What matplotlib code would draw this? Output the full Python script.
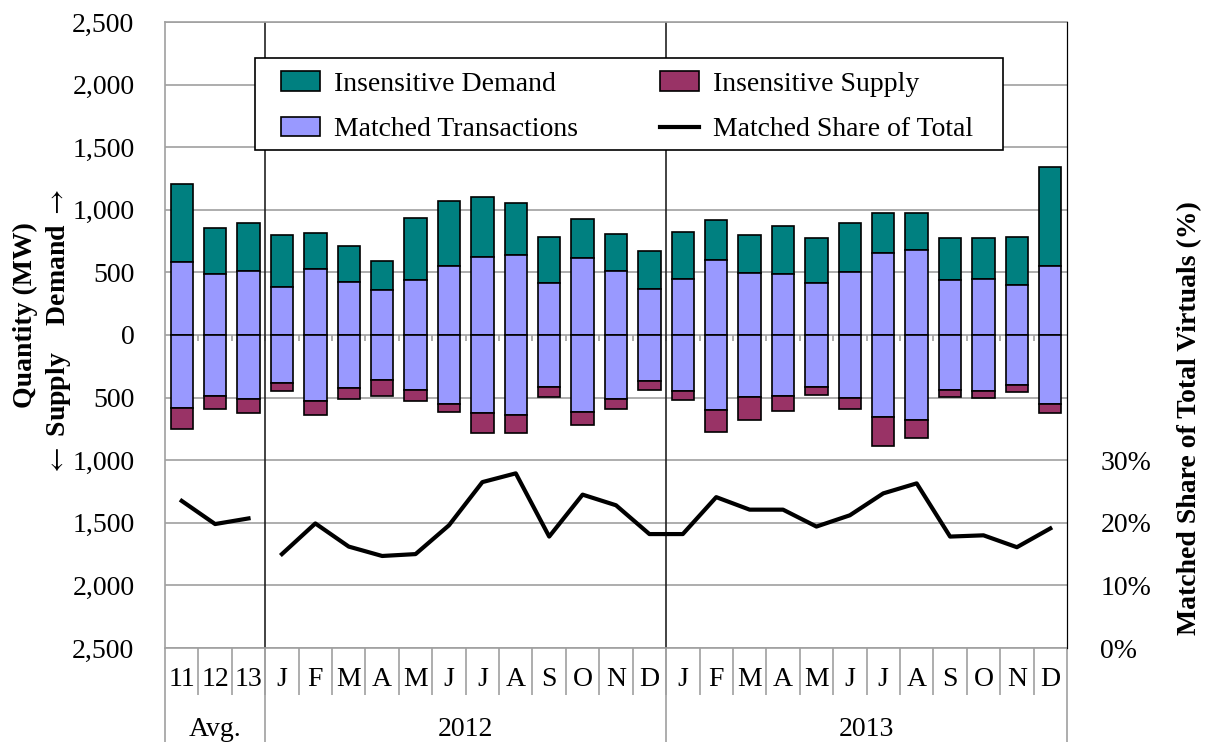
import numpy as np
import matplotlib.pyplot as plt
from matplotlib.patches import Rectangle
from matplotlib.transforms import blended_transform_factory

# categories: 3 yearly averages, then months of 2012 and 2013
cats = ['11', '12', '13',
        'J', 'F', 'M', 'A', 'M', 'J', 'J', 'A', 'S', 'O', 'N', 'D',
        'J', 'F', 'M', 'A', 'M', 'J', 'J', 'A', 'S', 'O', 'N', 'D']
groups = ['Avg.', '2012', '2013']

# MW values
matched = [580, 490, 512, 384, 528, 421, 362, 438, 554, 622, 638, 417, 613, 511, 368,
           445, 597, 497, 489, 416, 503, 655, 675, 437, 449, 402, 553]
ins_demand = [626, 365, 383, 415, 289, 290, 232, 494, 516, 480, 419, 368, 316, 296, 300,
              378, 321, 299, 384, 361, 389, 322, 302, 335, 328, 381, 791]
ins_supply = [172, 100, 111, 67, 111, 90, 128, 90, 58, 157, 141, 82, 103, 83, 70,
              78, 177, 183, 119, 63, 91, 229, 151, 57, 55, 53, 71]
# matched share of total virtuals (%)
share = [23.5, 19.8, 20.7, 15.0, 19.9, 16.2, 14.7, 15.0, 19.6, 26.5, 27.9, 17.8, 24.5, 22.8, 18.2,
         18.2, 24.1, 22.1, 22.1, 19.4, 21.2, 24.7, 26.3, 17.8, 18.0, 16.1, 19.1]

teal = '#008080'
plum = '#993366'
lav = '#9999FF'
grid_c = '#a0a0a0'

plt.rcParams['font.family'] = ['Liberation Serif', 'DejaVu Serif']
plt.rcParams['font.size'] = 20
plt.rcParams['mathtext.fontset'] = 'stix'

fig = plt.figure(figsize=(12.06, 7.42), dpi=100)
ax = fig.add_axes([165/1206, 1-648/742, 902/1206, 626/742])

x = np.arange(len(cats))
m = np.array(matched)
w = 0.67
kw = dict(width=w, edgecolor='black', linewidth=1.2, zorder=3)
b_dem = ax.bar(x, ins_demand, bottom=m, color=teal, label='Insensitive Demand', **kw)
b_mat = ax.bar(x, m, color=lav, label='Matched Transactions', **kw)
ax.bar(x, -m, color=lav, **kw)
b_sup = ax.bar(x, -np.array(ins_supply), bottom=-m, color=plum, label='Insensitive Supply', **kw)

ax.set_xlim(-0.5, len(cats)-0.5)
ax.set_ylim(-2500, 2500)
yt = np.arange(-2500, 2501, 500)
ax.set_yticks(yt, labels=[f'{abs(v):,}' for v in yt])
ax.yaxis.grid(True, color=grid_c, linewidth=1.2, zorder=0)
ax.set_axisbelow(True)
ax.tick_params(axis='y', length=0, pad=22)

ax.set_xticks(x, labels=cats)
ax.tick_params(axis='x', length=0, pad=14)

for s in ['left', 'top', 'bottom']:
    ax.spines[s].set_color(grid_c)
    ax.spines[s].set_linewidth(1.2)
ax.spines['right'].set_color('black')

# group separators inside the plot
for g in [2.5, 14.5]:
    ax.axvline(g, color='#222222', linewidth=1.2, zorder=2)

# small ticks on the zero line at category boundaries
ax.vlines(np.arange(0.5, len(cats)-0.5), -45, 0, color=grid_c, linewidth=1.2, zorder=1)

# category table below the axis
tr = blended_transform_factory(ax.transData, ax.transAxes)
ax.vlines(np.arange(0.5, len(cats)-0.5), -0.075, 0, transform=tr, color=grid_c,
          linewidth=1.2, clip_on=False)
ax.vlines([-0.5, 2.5, 14.5, len(cats)-0.5], -0.2, 0, transform=tr, color=grid_c,
          linewidth=1.2, clip_on=False)
for gx, gl in zip([1, 8.5, 20.5], groups):
    ax.text(gx, -0.130, gl, transform=tr, ha='center', va='center')

# right axis: matched share
ax2 = ax.twinx()
ax2.set_ylim(0, 100)
ax2.plot(x[:3], share[:3], color='black', linewidth=3, zorder=4)
l_sh, = ax2.plot(x[3:], share[3:], color='black', linewidth=3, zorder=4,
                 label='Matched Share of Total')
ax2.set_yticks([0, 10, 20, 30], labels=['0%', '10%', '20%', '30%'])
ax2.tick_params(axis='y', length=0, pad=24)
for s in ['left', 'top', 'bottom']:
    ax2.spines[s].set_visible(False)
ax2.spines['right'].set_color('black')

# legend box drawn separately so the inner padding can match
ax2.add_patch(Rectangle((0.0998, 0.7955), 0.829, 0.147, transform=ax2.transAxes,
                        facecolor='white', edgecolor='black', linewidth=1.2, zorder=5))
leg = ax2.legend([b_dem, b_mat, b_sup, l_sh],
                 ['Insensitive Demand', 'Matched Transactions', 'Insensitive Supply',
                  'Matched Share of Total'],
                 ncol=2, loc='upper left', bbox_to_anchor=(0.129, 0.921),
                 borderaxespad=0, borderpad=0, frameon=False,
                 handlelength=1.4, handleheight=0.7, handletextpad=0.5,
                 labelspacing=0.72, columnspacing=2.95)
leg.set_zorder(6)

fig.text(25/1206, 1-315/742, 'Quantity (MW)', rotation=90, ha='center', va='center',
         fontweight='bold')
fig.text(59/1206, 1-333/742, r'$\leftarrow$ Supply    Demand $\rightarrow$', rotation=90,
         ha='center', va='center', fontweight='bold')
fig.text(1190/1206, 1-418/742, 'Matched Share of Total Virtuals (%)', rotation=90,
         ha='center', va='center', fontweight='bold')

fig.savefig('out.png', dpi=100)
